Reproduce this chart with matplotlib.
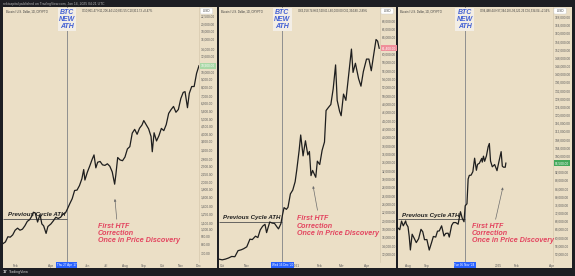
import pandas as pd
import matplotlib.pyplot as plt
from matplotlib.ticker import NullLocator

plt.rcParams['font.family'] = ['Liberation Sans', 'DejaVu Sans']

# ---- 2017 cycle (daily closes, sampled) ----
dates_2017 = ['2017-01-12', '2017-01-16', '2017-01-20', '2017-01-24', '2017-01-28', '2017-02-01',
              '2017-02-05', '2017-02-09', '2017-02-13', '2017-02-17', '2017-02-21', '2017-02-25',
              '2017-03-01', '2017-03-03', '2017-03-06', '2017-03-10', '2017-03-14', '2017-03-17',
              '2017-03-20', '2017-03-24', '2017-03-27', '2017-04-01', '2017-04-05', '2017-04-09',
              '2017-04-13', '2017-04-17', '2017-04-21', '2017-04-25', '2017-04-28', '2017-05-02',
              '2017-05-06', '2017-05-10', '2017-05-14', '2017-05-18', '2017-05-22', '2017-05-25',
              '2017-05-27', '2017-05-31', '2017-06-04', '2017-06-08', '2017-06-11', '2017-06-14',
              '2017-06-17', '2017-06-21', '2017-06-25', '2017-06-29', '2017-07-03', '2017-07-07',
              '2017-07-11', '2017-07-15', '2017-07-17', '2017-07-20', '2017-07-24', '2017-07-28',
              '2017-08-01', '2017-08-05', '2017-08-09', '2017-08-13', '2017-08-17', '2017-08-21',
              '2017-08-25', '2017-08-29', '2017-09-01', '2017-09-05', '2017-09-09', '2017-09-13',
              '2017-09-15', '2017-09-18', '2017-09-22', '2017-09-26', '2017-09-30', '2017-10-04',
              '2017-10-08', '2017-10-12', '2017-10-16', '2017-10-20', '2017-10-24', '2017-10-28',
              '2017-11-01', '2017-11-05', '2017-11-08', '2017-11-12', '2017-11-15', '2017-11-19',
              '2017-11-23', '2017-11-27', '2017-12-01']
close_2017 = [810, 830, 895, 890, 920, 985, 1015, 985, 1000, 1050, 1120, 1150,
              1220, 1280, 1270, 1110, 1240, 1080, 1050, 940, 1040, 1080, 1130, 1190,
              1170, 1190, 1250, 1270, 1340, 1450, 1560, 1760, 1770, 1890, 2090, 2390,
              2050, 2300, 2520, 2780, 2960, 2450, 2660, 2690, 2560, 2540, 2600, 2510,
              2310, 1930, 2220, 2850, 2750, 2720, 2870, 3230, 3340, 4070, 4300, 4000,
              4370, 4580, 4890, 4600, 4330, 3870, 3100, 4090, 3630, 3920, 4360, 4220,
              4610, 5430, 5740, 6010, 5520, 5750, 6740, 7380, 7460, 5900, 7280, 8040,
              8040, 9750, 10900]

# ---- 2020/21 cycle ----
dates_2020 = ['2020-09-27', '2020-10-01', '2020-10-05', '2020-10-09', '2020-10-13', '2020-10-17',
              '2020-10-21', '2020-10-25', '2020-10-28', '2020-11-01', '2020-11-05', '2020-11-08',
              '2020-11-12', '2020-11-15', '2020-11-18', '2020-11-21', '2020-11-24', '2020-11-26',
              '2020-11-30', '2020-12-03', '2020-12-06', '2020-12-09', '2020-12-11', '2020-12-14',
              '2020-12-16', '2020-12-18', '2020-12-21', '2020-12-23', '2020-12-26', '2020-12-29',
              '2021-01-01', '2021-01-03', '2021-01-06', '2021-01-08', '2021-01-11', '2021-01-14',
              '2021-01-17', '2021-01-19', '2021-01-21', '2021-01-23', '2021-01-27', '2021-01-29',
              '2021-02-01', '2021-02-04', '2021-02-07', '2021-02-09', '2021-02-12', '2021-02-15',
              '2021-02-18', '2021-02-21', '2021-02-23', '2021-02-26', '2021-02-28', '2021-03-03',
              '2021-03-06', '2021-03-10', '2021-03-13', '2021-03-15', '2021-03-18', '2021-03-22',
              '2021-03-25', '2021-03-28', '2021-04-01', '2021-04-04', '2021-04-07', '2021-04-10',
              '2021-04-13', '2021-04-15', '2021-04-17']
close_2020 = [10780, 10620, 10790, 11060, 11430, 11370, 12820, 13030, 13280, 13740, 15580, 15480,
              16300, 15970, 17800, 18680, 19150, 17150, 19700, 19440, 19360, 18540, 18050, 19270,
              21350, 23150, 22740, 23240, 26440, 27360, 29370, 32130, 36800, 40580, 35570, 39190,
              35790, 36630, 30830, 32080, 30430, 34300, 33500, 36900, 38900, 46450, 47200, 47900,
              51700, 57400, 48900, 46300, 45200, 50400, 48900, 55900, 61200, 55600, 57800, 54100,
              52300, 55800, 58800, 58800, 56000, 59800, 63500, 63100, 61400]

# ---- 2024/25 cycle ----
dates_2024 = ['2024-07-15', '2024-07-18', '2024-07-21', '2024-07-24', '2024-07-28', '2024-07-29',
              '2024-08-01', '2024-08-03', '2024-08-05', '2024-08-08', '2024-08-12', '2024-08-15',
              '2024-08-19', '2024-08-23', '2024-08-26', '2024-08-29', '2024-09-02', '2024-09-06',
              '2024-09-10', '2024-09-13', '2024-09-17', '2024-09-20', '2024-09-23', '2024-09-27',
              '2024-10-01', '2024-10-04', '2024-10-08', '2024-10-10', '2024-10-14', '2024-10-17',
              '2024-10-21', '2024-10-25', '2024-10-29', '2024-11-01', '2024-11-04', '2024-11-06',
              '2024-11-09', '2024-11-11', '2024-11-13', '2024-11-16', '2024-11-19', '2024-11-22',
              '2024-11-25', '2024-11-27', '2024-11-30', '2024-12-04', '2024-12-05', '2024-12-07',
              '2024-12-09', '2024-12-12', '2024-12-15', '2024-12-17', '2024-12-19', '2024-12-22',
              '2024-12-26', '2024-12-30', '2025-01-02', '2025-01-06', '2025-01-08', '2025-01-10',
              '2025-01-13', '2025-01-14']
close_2024 = [64700, 63900, 68100, 65800, 68200, 66800, 65300, 60700, 54000, 61700, 59400, 57600,
              59500, 64100, 62900, 59000, 59100, 53950, 57650, 60600, 60300, 63200, 63300, 65800,
              60800, 62100, 62200, 60300, 66000, 67400, 67400, 66600, 72700, 69500, 67800, 75600,
              76600, 88700, 90500, 90600, 92300, 98900, 93000, 95900, 96400, 98800, 97000, 99900,
              97400, 100000, 104500, 106100, 97500, 94700, 95800, 92800, 96900, 102100, 95000,
              94500, 94500, 96500]

prev_ath = [1163, 19800, 69000]
ath_break = ['2017-04-27', '2020-12-16', '2024-11-05']
ath_break_label = ["Thu 27 Apr '17", "Wed 16 Dec '20", "Tue 05 Nov '24"]
correction_low = [('2017-07-15', 1620), ('2021-01-23', 29000), ('2025-01-10', 86000)]

xticks_2017 = ['2017-02-01', '2017-04-01', '2017-06-01', '2017-07-01', '2017-08-01',
               '2017-09-01', '2017-10-01', '2017-11-01', '2017-12-01']
xlabels_2017 = ['Feb', 'Apr', 'Jun', 'Jul', 'Aug', 'Sep', 'Oct', 'Nov', 'Dec']
xticks_2020 = ['2020-10-01', '2020-11-01', '2021-01-02', '2021-02-01', '2021-03-01', '2021-04-01']
xlabels_2020 = ['Oct', 'Nov', '2021', 'Feb', 'Mar', 'Apr']
xticks_2024 = ['2024-08-01', '2024-09-01', '2025-01-01', '2025-02-01', '2025-04-01']
xlabels_2024 = ['Aug', 'Sep', '2025', 'Feb', 'Apr']

yticks_2017 = [700, 800, 900, 1000, 1100, 1250, 1400, 1600, 1800, 2000, 2250, 2500, 2800,
               3200, 3600, 4000, 4500, 5000, 5600, 6300, 7000, 8000, 9000, 10000, 11200,
               12600, 14000, 16000, 18000, 20000, 22500]
yticks_2020 = list(range(12000, 70001, 2000))
yticks_2024 = list(range(52000, 172001, 4000))

header_left = 'Bitcoin / U.S. Dollar, 1D, CRYPTO'
header_right = ['O10,861.47 H11,206.44 L10,831.55 C10,912.73 +0.47%',
                'O63,158.74 H63,520.61 L60,000.00 C61,334.80 -2.89%',
                'O94,488.44 H97,344.18 L94,321.26 C96,534.04 +2.16%']

W, H = 575, 276
BG = '#ebdfc6'
DARK = '#1d1e23'
RED = '#e3445f'
BLUE = '#4260d4'


def fx(x):
    return x / W


def fy(y):
    return 1 - y / H


fig = plt.figure(figsize=(W / 100, H / 100), dpi=100, facecolor=DARK)

panels = [
    dict(d=dates_2017, c=close_2017, box=(3, 217), plot=(3, 199), xlim=('2017-01-12', '2017-12-01'),
         ylim=(619, 25700), log=True, yt=yticks_2017, xt=xticks_2017, xl=xlabels_2017,
         red=(98, 222.5), tail=(117, 222), last='#a9d8a6'),
    dict(d=dates_2020, c=close_2020, box=(219, 396), plot=(219, 380), xlim=('2020-09-27', '2021-04-18'),
         ylim=(10100, 71300), log=False, yt=yticks_2020, xt=xticks_2020, xl=xlabels_2020,
         red=(297, 215.5), tail=(318, 213), last='#ef8f9a'),
    dict(d=dates_2024, c=close_2024, box=(398, 572), plot=(398, 553), xlim=('2024-07-15', '2025-04-04'),
         ylim=(48100, 172900), log=False, yt=yticks_2024, xt=xticks_2024, xl=xlabels_2024,
         red=(472, 222.5), tail=(495, 222), last='#43a85a'),
]

for i, p in enumerate(panels):
    b0, b1 = p['box']
    bg = fig.add_axes([fx(b0), fy(268), fx(b1 - b0), (268 - 7) / H])
    bg.set_facecolor(BG)
    bg.set_xticks([])
    bg.set_yticks([])
    for s in bg.spines.values():
        s.set_visible(False)

    x0, x1 = p['plot']
    ax = fig.add_axes([fx(x0), fy(262), fx(x1 - x0), (262 - 7) / H])
    ax.set_facecolor(BG)
    for s in ax.spines.values():
        s.set_visible(False)
    ax.spines['right'].set_visible(True)
    ax.spines['right'].set_color('#d6c9ae')
    ax.spines['right'].set_linewidth(0.5)

    dates = pd.to_datetime(p['d'])
    ax.plot(dates, p['c'], color='#1e1e1e', lw=0.9, zorder=3)

    if p['log']:
        ax.set_yscale('log')
    ax.set_xlim(pd.to_datetime(p['xlim'][0]), pd.to_datetime(p['xlim'][1]))
    ax.set_ylim(*p['ylim'])

    # keep price-scale labels clear of the currency box and the last-price tag
    last = p['c'][-1]
    y_last = ax.transData.transform((0, last))[1]
    y_top = fig.bbox.height - 15
    yt = [v for v in p['yt']
          if abs(ax.transData.transform((0, v))[1] - y_last) > 5
          and ax.transData.transform((0, v))[1] < y_top]

    ax.yaxis.tick_right()
    ax.set_yticks(yt)
    ax.set_yticklabels([f'{v:,.2f}' for v in yt])
    ax.yaxis.set_minor_locator(NullLocator())
    ax.set_xticks(pd.to_datetime(p['xt']))
    ax.set_xticklabels(p['xl'])
    ax.tick_params(axis='both', length=0, labelsize=2.3, labelcolor='#5a5a5a', pad=1.2)

    # ATH break vertical line + labels
    brk = pd.to_datetime(ath_break[i])
    ax.axvline(brk, color='#8f8f8f', lw=0.7, zorder=2)
    ax.annotate('BTC\nNEW\nATH', xy=(brk, 1), xycoords=('data', 'axes fraction'),
                xytext=(0, -1.2), textcoords='offset points', ha='center', va='top',
                fontsize=5, fontweight='bold', fontstyle='italic', color=BLUE, linespacing=1.05,
                bbox=dict(boxstyle='square,pad=0.15', fc='#f3eee6', ec='none'), zorder=5)
    ax.annotate(ath_break_label[i], xy=(brk, 0), xycoords=('data', 'axes fraction'),
                xytext=(0, -1.0), textcoords='offset points', ha='center', va='top',
                fontsize=2.2, color='white', annotation_clip=False,
                bbox=dict(boxstyle='square,pad=0.3', fc='#2962ff', ec='none'), zorder=6)

    # previous cycle ATH
    ax.hlines(prev_ath[i], pd.to_datetime(p['xlim'][0]), brk, color='#505050', lw=0.6, zorder=2)
    ax.annotate('Previous Cycle ATH', xy=(0.025, prev_ath[i]), xycoords=('axes fraction', 'data'),
                xytext=(0, 1.2), textcoords='offset points', ha='left', va='bottom',
                fontsize=4.4, fontweight='bold', fontstyle='italic', color='#1e1e1e', zorder=5)

    # first HTF correction
    low_d, low_p = correction_low[i]
    ax.annotate('', xy=(pd.to_datetime(low_d), low_p), xycoords='data',
                xytext=(fx(p['tail'][0]), fy(p['tail'][1])), textcoords='figure fraction',
                arrowprops=dict(arrowstyle='-|>', mutation_scale=3, lw=0.5, color='#6d6d6d'),
                annotation_clip=False, zorder=4)
    fig.text(fx(p['red'][0]), fy(p['red'][1]), 'First HTF\nCorrection\nOnce in Price Discovery',
             ha='left', va='top', fontsize=5.1, fontweight='bold', fontstyle='italic',
             color=RED, linespacing=1.05)

    # last price tag, currency box, legend header
    ax.annotate(f'{last:,.2f}', xy=(1, last), xycoords=('axes fraction', 'data'),
                xytext=(1.5, 0), textcoords='offset points', ha='left', va='center',
                fontsize=2.3, color='white', annotation_clip=False,
                bbox=dict(boxstyle='square,pad=0.35', fc=p['last'], ec='none'), zorder=6)
    ax.text(1.012, 0.992, '  USD  ', transform=ax.transAxes, ha='left', va='top', fontsize=2.3,
            color='#444444', bbox=dict(boxstyle='round,pad=0.3', fc='white', ec='#cccccc', lw=0.3))
    ax.text(0.015, 0.992, header_left, transform=ax.transAxes, ha='left', va='top',
            fontsize=2.0, color='#3c3c3c')
    ax.annotate(header_right[i], xy=(brk, 1), xycoords=('data', 'axes fraction'),
                xytext=(11, -1.4), textcoords='offset points', ha='left', va='top',
                fontsize=2.0, color='#3c3c3c')

fig.text(fx(3), fy(3.5), 'rektcapital published on TradingView.com, Jan 14, 2025 04:21 UTC',
         fontsize=2.4, color='#b5b5b5', va='center')
fig.text(fx(3), fy(272), '17', fontsize=3, fontweight='bold', color='#e0e0e0', va='center')
fig.text(fx(9), fy(272), 'TradingView', fontsize=2.6, color='#d0d0d0', va='center')

fig.savefig('out.png', dpi=100, facecolor=DARK)
